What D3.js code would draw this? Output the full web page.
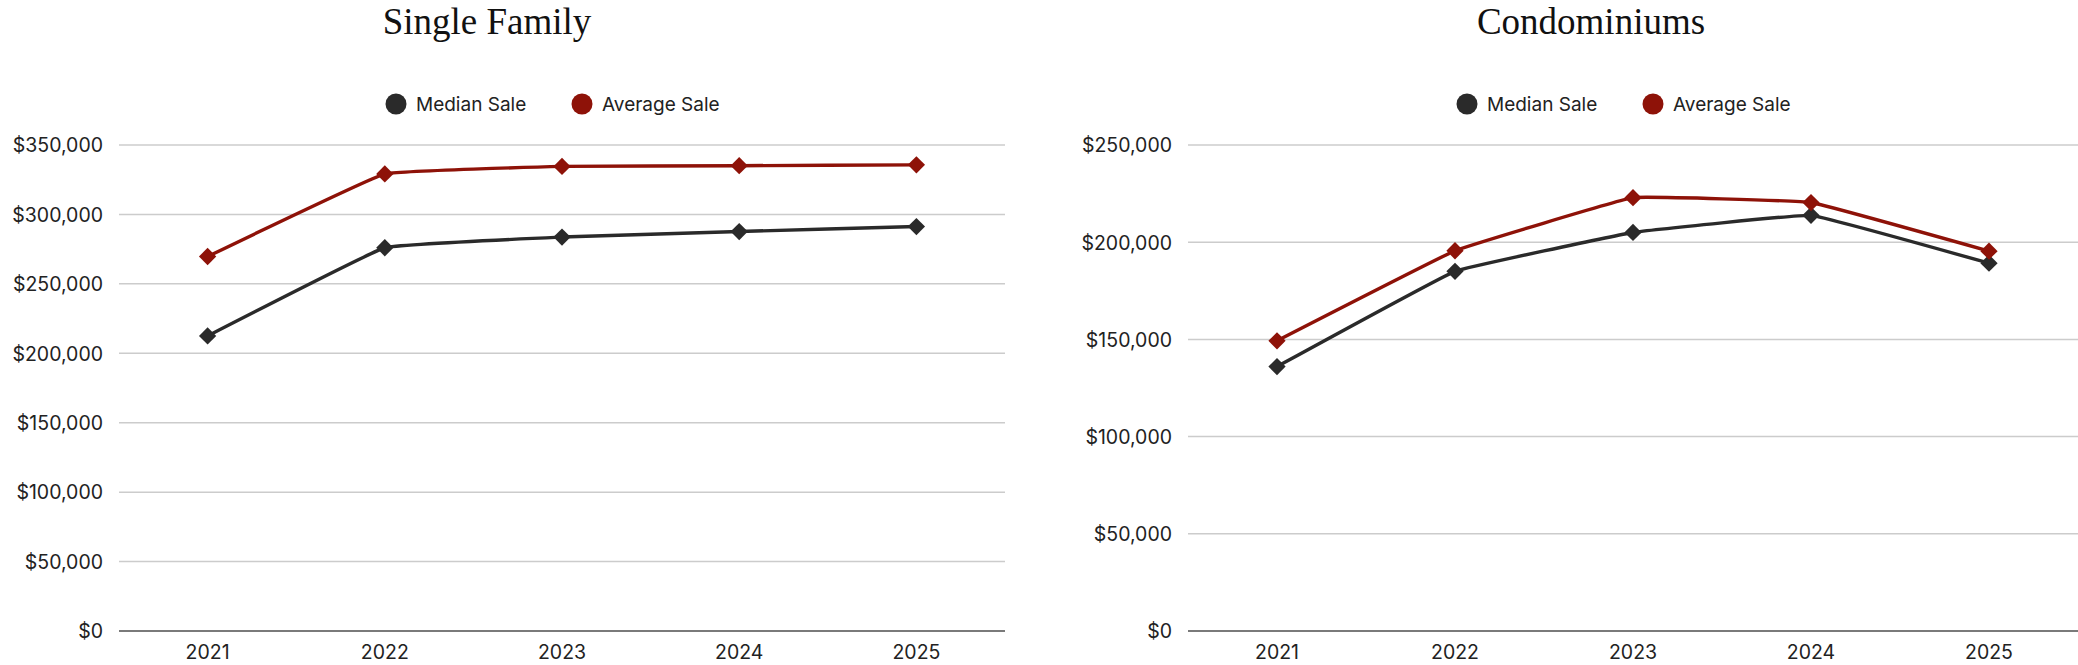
<!DOCTYPE html>
<html>
<head>
<meta charset="utf-8">
<script src="https://cdn.jsdelivr.net/npm/d3@7"></script>
<style>
  body { margin: 0; background: #fff; }
  svg { display: block; }
  .tick-label { font-family: Inter, "Noto Sans", sans-serif; font-size: 19.5px; fill: #222; }
  .legend-label { font-family: Inter, "Noto Sans", sans-serif; font-size: 19px; fill: #222; }
  .title { font-family: "Liberation Serif", "DejaVu Serif", serif; font-size: 37px; fill: #111; }
</style>
</head>
<body>
<svg id="chart" width="2078" height="665"></svg>
<script>
// Years on the x axis
const years = ["2021", "2022", "2023", "2024", "2025"];

// Single Family values
const singleMedian = [212500, 276000, 283700, 287700, 291300];
const singleAverage = [269700, 329200, 334600, 335100, 335700];

// Condominium values
const condoMedian = [136000, 185000, 205000, 213800, 189200];
const condoAverage = [149300, 195600, 222900, 220400, 195400];

// y tick values
const singleTicks = [0, 50000, 100000, 150000, 200000, 250000, 300000, 350000];
const condoTicks = [0, 50000, 100000, 150000, 200000, 250000];

const seriesNames = ["Median Sale", "Average Sale"];
const colors = ["#2a2a2a", "#8e1208"];

const svg = d3.select("#chart");
const fmt = d => "$" + d3.format(",")(d);

function drawChart(opts) {
  const g = svg.append("g");
  const top = 145, bottom = 631;

  const x = d3.scaleBand()
    .domain(years)
    .range([opts.left, opts.right]);

  const y = d3.scaleLinear()
    .domain([0, d3.max(opts.ticks)])
    .range([bottom, top]);

  // gridlines
  g.selectAll(".grid")
    .data(opts.ticks)
    .enter()
    .append("line")
    .attr("x1", opts.left)
    .attr("x2", opts.right)
    .attr("y1", d => y(d))
    .attr("y2", d => y(d))
    .attr("stroke", d => d === 0 ? "#7a7a7a" : "#cccccc")
    .attr("stroke-width", d => d === 0 ? 2 : 1.5);

  // y axis labels
  const yAxis = d3.axisLeft(y).tickValues(opts.ticks).tickFormat(fmt).tickSize(0).tickPadding(0);
  const ya = g.append("g")
    .attr("transform", `translate(${opts.left - 16},0)`)
    .call(yAxis);
  ya.select(".domain").remove();
  ya.selectAll("text").attr("class", "tick-label").attr("dy", "0.35em");

  // x axis labels
  const xAxis = d3.axisBottom(x).tickSize(0).tickPadding(0);
  const xa = g.append("g")
    .attr("transform", `translate(0,${bottom + 21})`)
    .call(xAxis);
  xa.select(".domain").remove();
  xa.selectAll("text").attr("class", "tick-label").attr("dy", "0.35em");

  const cx = d => x(d) + x.bandwidth() / 2;
  const line = d3.line()
    .x((d, i) => cx(years[i]))
    .y(d => y(d))
    .curve(d3.curveCardinal.tension(0.8));

  const diamond = d3.symbol().type(d3.symbolDiamond2).size(190);

  [opts.median, opts.average].forEach((vals, s) => {
    g.append("path")
      .datum(vals)
      .attr("d", line)
      .attr("fill", "none")
      .attr("stroke", colors[s])
      .attr("stroke-width", 3.4)
      .attr("stroke-linejoin", "round");

    g.selectAll(".pt" + s)
      .data(vals)
      .enter()
      .append("path")
      .attr("d", diamond)
      .attr("transform", (d, i) => `translate(${cx(years[i])},${y(d)})`)
      .attr("fill", colors[s]);
  });

  // title
  g.append("text")
    .attr("class", "title")
    .attr("x", opts.titleX)
    .attr("y", 34)
    .attr("text-anchor", "middle")
    .text(opts.title);

  // legend
  const mid = (opts.left + opts.right) / 2;
  const legendX = [mid - 166, mid + 20];
  seriesNames.forEach((name, i) => {
    g.append("circle")
      .attr("cx", legendX[i])
      .attr("cy", 104)
      .attr("r", 10.5)
      .attr("fill", colors[i]);
    g.append("text")
      .attr("class", "legend-label")
      .attr("x", legendX[i] + 20)
      .attr("y", 104)
      .attr("dy", "0.35em")
      .text(name);
  });
}

drawChart({
  title: "Single Family",
  titleX: 487,
  left: 119,
  right: 1005,
  ticks: singleTicks,
  median: singleMedian,
  average: singleAverage
});

drawChart({
  title: "Condominiums",
  titleX: 1591,
  left: 1188,
  right: 2078,
  ticks: condoTicks,
  median: condoMedian,
  average: condoAverage
});
</script>
</body>
</html>
